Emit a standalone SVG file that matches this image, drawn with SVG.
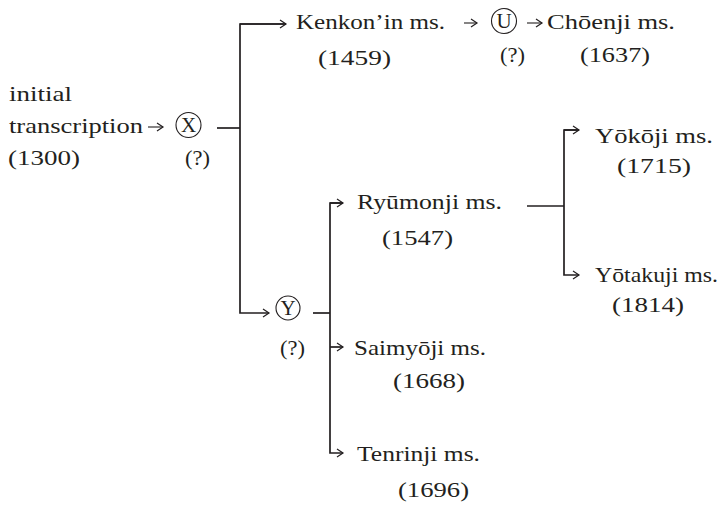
<svg xmlns="http://www.w3.org/2000/svg" width="724" height="505" viewBox="0 0 724 505">
<style>
text{font-family:"Liberation Serif","Times New Roman",serif;font-size:22px;fill:#231f20}
.c{font-size:21px;text-anchor:middle}
.ln{fill:none;stroke:#231f20;stroke-width:1.7}
.sm{fill:none;stroke:#231f20;stroke-width:1.1}
circle{fill:none;stroke:#231f20;stroke-width:1.1}
</style>
<defs>
<marker id="ah" markerUnits="userSpaceOnUse" markerWidth="12" markerHeight="12" refX="0" refY="0" viewBox="-8 -6 10 12" orient="auto">
<path d="M-6,-4 L0,0 L-6,4" fill="none" stroke="#231f20" stroke-width="1.2"/>
</marker>
</defs>
<rect width="724" height="505" fill="#fff"/>
<g id="connectors">
<path class="sm" d="M148,127 H163" marker-end="url(#ah)"/>
<path class="ln" d="M217,128 H240"/>
<path class="ln" d="M286,24 H240 V313 H269" marker-end="url(#ah)"/>
<path class="ln" d="M240,24 H286" marker-end="url(#ah)"/>
<path class="sm" d="M464,23 H477" marker-end="url(#ah)"/>
<path class="sm" d="M527,23 H542" marker-end="url(#ah)"/>
<path class="ln" d="M313,313 H330"/>
<path class="ln" d="M343,203 H330 V453 H343" marker-end="url(#ah)"/>
<path class="ln" d="M330,203 H343" marker-end="url(#ah)"/>
<path class="ln" d="M330,347 H343" marker-end="url(#ah)"/>
<path class="ln" d="M527,206 H564"/>
<path class="ln" d="M579,130 H564 V275 H579" marker-end="url(#ah)"/>
<path class="ln" d="M564,130 H579" marker-end="url(#ah)"/>
</g>
<g id="initial">
<text x="9" y="101" textLength="63" lengthAdjust="spacingAndGlyphs">initial</text>
<text x="9" y="133" textLength="134" lengthAdjust="spacingAndGlyphs">transcription</text>
<text x="8" y="165" textLength="72" lengthAdjust="spacingAndGlyphs">(1300)</text>
</g>
<g id="X">
<circle cx="188.5" cy="125" r="12.5"/>
<text class="c" x="188.5" y="132">X</text>
<text x="185" y="165" textLength="25" lengthAdjust="spacingAndGlyphs">(?)</text>
</g>
<g id="kenkonin">
<text x="296" y="29" textLength="149" lengthAdjust="spacingAndGlyphs">Kenkon’in ms.</text>
<text x="318" y="65" textLength="73" lengthAdjust="spacingAndGlyphs">(1459)</text>
</g>
<g id="U">
<circle cx="504" cy="21" r="12.5"/>
<text class="c" x="504" y="28">U</text>
<text x="500" y="62" textLength="25" lengthAdjust="spacingAndGlyphs">(?)</text>
</g>
<g id="choenji">
<text x="547" y="29" textLength="128" lengthAdjust="spacingAndGlyphs">Chōenji ms.</text>
<text x="580" y="62" textLength="70" lengthAdjust="spacingAndGlyphs">(1637)</text>
</g>
<g id="Y">
<circle cx="288" cy="308" r="12"/>
<text class="c" x="288" y="315">Y</text>
<text x="280" y="355" textLength="25" lengthAdjust="spacingAndGlyphs">(?)</text>
</g>
<g id="ryumonji">
<text x="357" y="209" textLength="145" lengthAdjust="spacingAndGlyphs">Ryūmonji ms.</text>
<text x="382" y="245" textLength="71" lengthAdjust="spacingAndGlyphs">(1547)</text>
</g>
<g id="saimyoji">
<text x="354" y="355" textLength="132" lengthAdjust="spacingAndGlyphs">Saimyōji ms.</text>
<text x="393" y="388" textLength="72" lengthAdjust="spacingAndGlyphs">(1668)</text>
</g>
<g id="tenrinji">
<text x="357" y="461" textLength="123" lengthAdjust="spacingAndGlyphs">Tenrinji ms.</text>
<text x="398" y="497" textLength="71" lengthAdjust="spacingAndGlyphs">(1696)</text>
</g>
<g id="yokoji">
<text x="595" y="143" textLength="118" lengthAdjust="spacingAndGlyphs">Yōkōji ms.</text>
<text x="617" y="173" textLength="74" lengthAdjust="spacingAndGlyphs">(1715)</text>
</g>
<g id="yotakuji">
<text x="595" y="282" textLength="123" lengthAdjust="spacingAndGlyphs">Yōtakuji ms.</text>
<text x="612" y="312" textLength="72" lengthAdjust="spacingAndGlyphs">(1814)</text>
</g>
</svg>
